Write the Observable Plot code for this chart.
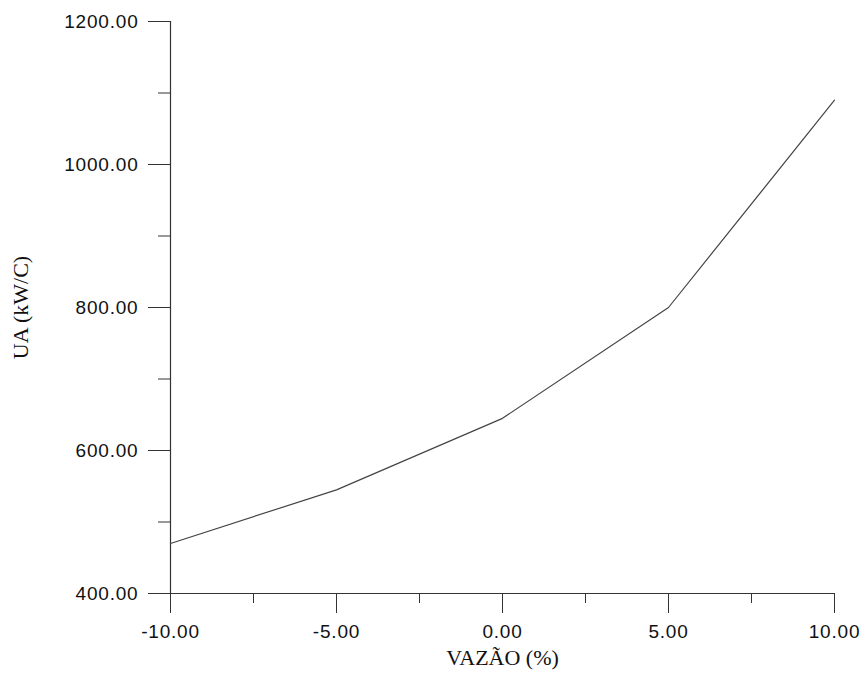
<!DOCTYPE html>
<html>
<head>
<meta charset="utf-8">
<script src="https://cdn.jsdelivr.net/npm/d3@7"></script>
<script src="https://cdn.jsdelivr.net/npm/@observablehq/plot@0.6"></script>
<style>
  html, body { margin: 0; padding: 0; background: #fff; }
  #chart svg { display: block; }
  #chart svg g[aria-label="y-axis tick label"] text,
  #chart svg g[aria-label="x-axis tick label"] text { letter-spacing: 0.8px; }
</style>
</head>
<body>
<div id="chart"></div>
<script>
const vazao = [-10, -5, 0, 5, 10];
const ua = [470, 545, 645, 800, 1090];
const xMajor = [-10, -5, 0, 5, 10];
const xMinor = [-7.5, -2.5, 2.5, 7.5];
const yMajor = [400, 600, 800, 1000, 1200];
const yMinor = [500, 700, 900, 1100];
const xLabel = "VAZÃO (%)";
const yLabel = "UA (kW/C)";

const data = vazao.map((v, i) => ({x: v, y: ua[i]}));
const fmt = d => d3.format(".2f")(d).replace("\u2212", "-");
const ink = "#333";

const chart = Plot.plot({
  width: 865,
  height: 674,
  marginLeft: 170,
  marginRight: 31,
  marginTop: 21,
  marginBottom: 81,
  x: {domain: [-10, 10]},
  y: {domain: [400, 1200]},
  style: {fontFamily: "'Liberation Sans', Arial, sans-serif", fontSize: "19px", color: "#111", background: "#fff"},
  marks: [
    Plot.axisY({ticks: yMajor, tickSize: 22, tickPadding: 10, tickFormat: fmt, label: null, fontSize: 19, stroke: ink, fill: "#111"}),
    Plot.axisY({ticks: yMinor, tickSize: 12, tickFormat: () => "", label: null, stroke: ink}),
    Plot.axisX({ticks: xMajor, tickSize: 20, tickPadding: 11, tickFormat: fmt, label: null, fontSize: 19, stroke: ink, fill: "#111"}),
    Plot.axisX({ticks: xMinor, tickSize: 10, tickFormat: () => "", label: null, stroke: ink}),
    Plot.ruleX([-10], {stroke: ink, strokeWidth: 1.2}),
    Plot.ruleY([400], {stroke: ink, strokeWidth: 1.2}),
    Plot.line(data, {x: "x", y: "y", stroke: "#444", strokeWidth: 1.2}),
    Plot.text([xLabel], {frameAnchor: "bottom", dy: 64, lineAnchor: "middle", textAnchor: "middle", text: d => d, fontFamily: "'Liberation Serif', 'Times New Roman', serif", fontSize: 22, fill: "#111", style: "letter-spacing:1.3px"}),
    Plot.text([yLabel], {frameAnchor: "left", dx: -150, rotate: -90, lineAnchor: "middle", textAnchor: "middle", text: d => d, fontFamily: "'Liberation Serif', 'Times New Roman', serif", fontSize: 22, fill: "#111"})
  ]
});
document.getElementById("chart").appendChild(chart);
</script>
</body>
</html>
